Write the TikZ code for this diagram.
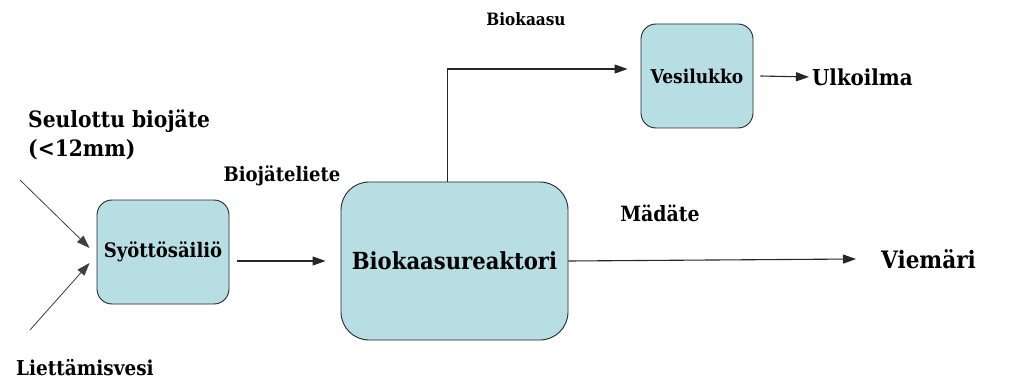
\documentclass[tikz,border=0pt]{standalone}
\usepackage{fontspec}
\newfontfamily\labelfont{DejaVu Serif Condensed}
\usepackage{tikz}
\usepackage{xcolor}
\usetikzlibrary{arrows.meta,positioning,calc}

\definecolor{tankfill}{RGB}{183,222,227}

\begin{document}
\begin{tikzpicture}[
  x=1pt, y=-1pt,
  tank/.style={
    draw=black!85,
    line width=0.9pt,
    fill=tankfill,
    align=center,
    inner sep=0pt,
  },
  flow/.style={-{Triangle[length=13pt,width=9pt]}, line width=1.1pt, black!85},
  feedflow/.style={-{Triangle[length=13pt,width=9pt]}, line width=0.8pt, black!75},
  tag/.style={inner sep=0pt, align=left},
]
\useasboundingbox (0,0) rectangle (1011,382);

% tanks
\node[tank, rounded corners=15pt, minimum width=132pt, minimum height=104pt,
  font=\labelfont\fontsize{20}{24}\bfseries\selectfont] (feed) at (163,252) {Syöttösäiliö};
\node[tank, rounded corners=28pt, minimum width=227pt, minimum height=158pt,
  font=\labelfont\fontsize{23.5}{28}\bfseries\selectfont] (reactor) at (454.5,261) {\raisebox{-4pt}{Biokaasureaktori}};
\node[tank, rounded corners=15pt, minimum width=112pt, minimum height=104pt,
  font=\labelfont\fontsize{19}{22}\bfseries\selectfont] (lock) at (697,76) {\raisebox{-3pt}{Vesilukko}};

% end points and labels
\node[tag, anchor=west, font=\labelfont\fontsize{22}{25}\bfseries\selectfont] (air) at (812,77) {Ulkoilma};
\node[tag, anchor=west, font=\labelfont\fontsize{24}{27}\bfseries\selectfont] (sewer) at (881,259) {Viemäri};
\node[tag, font=\labelfont\fontsize{17}{21}\bfseries\selectfont] (gas_lbl) at (526,19) {Biokaasu};
\node[tag, font=\labelfont\fontsize{21}{24}\bfseries\selectfont] (digest_lbl) at (660,213) {Mädäte};
\node[tag, font=\labelfont\fontsize{20}{23}\bfseries\selectfont] (slurry_lbl) at (282,176) {Biojäteliete};
\node[tag, anchor=west, font=\labelfont\fontsize{22.5}{29}\bfseries\selectfont] (waste_lbl) at (28,135) {Seulottu biojäte\\(<12mm)};
\node[tag, anchor=west, font=\labelfont\fontsize{20.5}{24}\bfseries\selectfont] (water_lbl) at (16,368) {Liettämisvesi};

\coordinate (waste_in) at (20,180);
\coordinate (water_in) at (30,330);

% connectors
\draw[feedflow] (waste_in) -- ($(feed.west)+(-7,-4)$);
\draw[feedflow] (water_in) -- ($(feed.west)+(-7,11)$);
\draw[flow] ([xshift=8pt]feed.east |- reactor.west) -- ([xshift=-15pt]reactor.west);
\draw[flow] (reactor.east) -- ([xshift=-25pt]sewer.west);
\draw[flow] ([xshift=-7pt]reactor.north) |- ([xshift=-13pt,yshift=7pt]lock.west);
\draw[flow] ([xshift=7pt]lock.east) -- ([xshift=-3pt]air.west);

\end{tikzpicture}
\end{document}
